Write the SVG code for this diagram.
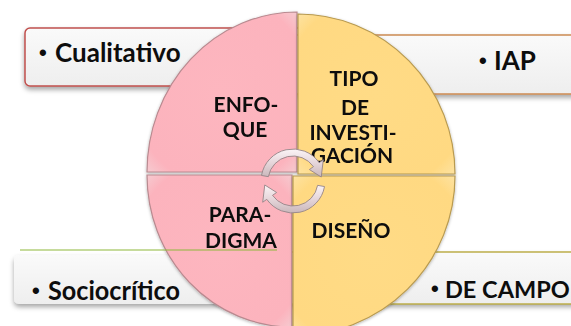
<svg xmlns="http://www.w3.org/2000/svg" width="571" height="326" viewBox="0 0 571 326">
<defs>
<style>
.side{font-family:"Lato","Liberation Sans",sans-serif;font-weight:bold;font-size:26px;fill:#0d0d0d}
.bul{font-family:"Liberation Sans",sans-serif;font-weight:bold;font-size:22px;fill:#0d0d0d}
.q{font-family:"Lato","Liberation Sans",sans-serif;font-weight:bold;font-size:21px;fill:#0d0d0d;text-anchor:middle}
.pink{fill:url(#gPink);stroke:#b98a90;stroke-width:1.2}
.yel{fill:url(#gYel);stroke:#b89a50;stroke-width:1.2}
.box{fill:url(#gBox)}
.arr{fill:url(#gArr);stroke:#958488;stroke-width:0.9}
</style>
<linearGradient id="gBox" x1="0" y1="0" x2="0" y2="1">
<stop offset="0" stop-color="#fafafa"/>
<stop offset="1" stop-color="#eeeeee"/>
</linearGradient>
<radialGradient id="gPink" cx="0.5" cy="0.5" r="0.7">
<stop offset="0" stop-color="#fdb6bf"/>
<stop offset="0.85" stop-color="#fcb3bd"/>
<stop offset="1" stop-color="#f6c9cf"/>
</radialGradient>
<radialGradient id="gYel" cx="0.5" cy="0.5" r="0.7">
<stop offset="0" stop-color="#ffdb86"/>
<stop offset="0.85" stop-color="#ffd982"/>
<stop offset="1" stop-color="#fde2a0"/>
</radialGradient>
<linearGradient id="gArr" x1="0" y1="0" x2="0" y2="1">
<stop offset="0" stop-color="#fbf4f6"/>
<stop offset="0.5" stop-color="#e6d6da"/>
<stop offset="1" stop-color="#c9b7bb"/>
</linearGradient>
<filter id="sh" x="-10%" y="-20%" width="120%" height="160%">
<feDropShadow dx="0" dy="3" stdDeviation="2.5" flood-color="#000" flood-opacity="0.35"/>
</filter>
<filter id="shq" x="-10%" y="-10%" width="120%" height="120%">
<feDropShadow dx="0" dy="1" stdDeviation="1.5" flood-color="#000" flood-opacity="0.3"/>
</filter>
</defs>
<rect width="571" height="326" fill="#ffffff"/>

<g id="box-cualitativo">
<rect class="box" x="25" y="28" width="300" height="58" rx="5" fill="#f4f4f4" stroke="#c0504d" stroke-width="1.5" filter="url(#sh)"/>
<text class="bul" x="39" y="60">•</text>
<text class="side" x="55" y="62">Cualitativo</text>
</g>

<g id="box-iap">
<rect class="box" x="280" y="35" width="300" height="59" fill="#f4f4f4" stroke="#cc8a52" stroke-width="1.5" filter="url(#sh)"/>
<text class="bul" x="479" y="68">•</text>
<text class="side" x="494" y="70">IAP</text>
</g>

<g id="box-sociocritico">
<rect class="box" x="14" y="255" width="290" height="49" rx="5" fill="#f4f4f4" filter="url(#sh)"/>
<text class="bul" x="32" y="298">•</text>
<text class="side" x="48" y="300" textLength="132" lengthAdjust="spacingAndGlyphs">Sociocrítico</text>
</g>

<g id="box-decampo">
<rect class="box" x="290" y="252" width="290" height="52" fill="#f4f4f4" filter="url(#sh)"/>
<line x1="290" y1="252" x2="571" y2="252" stroke="#bcae4a" stroke-width="1.5"/>
<line x1="290" y1="304" x2="571" y2="304" stroke="#bcae4a" stroke-width="1.5"/>
<text class="bul" x="431" y="296">•</text>
<text class="side" x="445" y="298" style="font-size:23.5px">DE CAMPO</text>
</g>

<g id="enfoque" filter="url(#shq)">
<path class="pink" d="M297,172 L147,172 A150,160 0 0 1 297,12 Z"/>
<text class="q" x="246" y="112">ENFO-</text>
<text class="q" x="245" y="137">QUE</text>
</g>

<g id="tipo-investigacion" filter="url(#shq)">
<path class="yel" d="M298,174 L298,14 A157,160 0 0 1 455,174 Z"/>
<text class="q" x="354" y="86">TIPO</text>
<text class="q" x="355" y="115">DE</text>
<text class="q" x="353" y="140">INVESTI-</text>
<text class="q" x="352" y="163">GACIÓN</text>
</g>

<g id="paradigma" filter="url(#shq)">
<path class="pink" d="M292,175 L147,175 A145,152 0 0 0 292,327 Z"/>
<text class="q" x="240" y="222">PARA-</text>
<text class="q" x="241" y="248">DIGMA</text>
</g>

<g id="diseno" filter="url(#shq)">
<path class="yel" d="M293,176 L455,176 A162,160 0 0 1 293,336 Z"/>
<text class="q" x="351" y="238">DISEÑO</text>
</g>

<g id="connectors">
<path class="arr" d="M261.49,175.44 A32,32 0 0 1 319.21,162.65 L323.31,159.78 L321.22,177.03 L309.38,169.53 L313.48,166.66 A25,25 0 0 0 268.38,176.66 Z"/>
<path class="arr" d="M324.51,186.56 A32,32 0 0 1 266.79,199.35 L262.69,202.22 L264.78,184.97 L276.62,192.47 L272.52,195.34 A25,25 0 0 0 317.62,185.34 Z"/>
</g>

<line x1="20" y1="250" x2="277" y2="250" stroke="#8db83a" stroke-width="1.2"/>
</svg>
